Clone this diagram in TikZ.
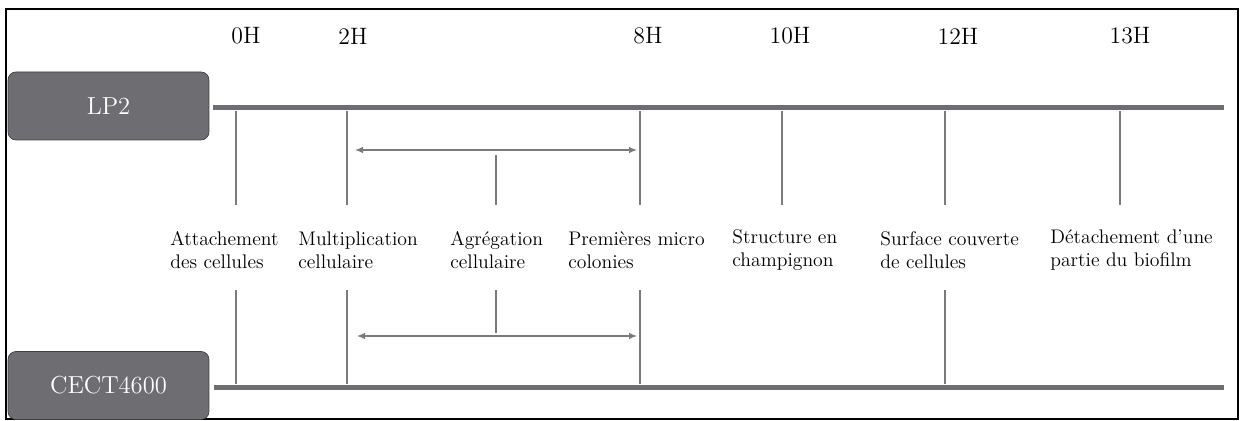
\documentclass[tikz,border=0pt]{standalone}
\usetikzlibrary{arrows.meta}

\definecolor{boxgray}{HTML}{6E6D72}
\definecolor{linegray}{HTML}{7B7B7B}

\tikzset{
	strain/.style={draw=black!75, fill=boxgray, text=white, rounded corners=0.16cm,
		minimum width=4.02cm, minimum height=1.36cm, font=\fontsize{14}{16}\selectfont},
	bar/.style={draw=boxgray, line width=1mm},
	tick/.style={draw=linegray, line width=0.6pt},
	span/.style={tick, {Latex[length=1.6mm,width=1.3mm]}-{Latex[length=1.6mm,width=1.3mm]}},
	hour/.style={font=\fontsize{13.5}{15}\selectfont},
	stage/.style={align=left, anchor=west, inner sep=0pt, font=\fontsize{11.2}{13}\selectfont}
}

\begin{document}
\begin{tikzpicture}[x=0.02cm, y=-0.02cm]
	
	\useasboundingbox (0,0) rectangle (1241,421);
	\draw[line width=0.9pt] (6,9) rectangle (1238,419);
	
	% souches
	\node[strain] (lp2) at (108.5,106) {LP2};
	\node[strain] (cect) at (108.5,385.5) {CECT4600};
	
	% axes du temps
	\coordinate (topL) at (213,108);
	\coordinate (topR) at (1224,108);
	\coordinate (botL) at (214,387.5);
	\coordinate (botR) at (1224,387.5);
	\draw[bar] (topL) -- (topR);
	\draw[bar] (botL) -- (botR);
	
	% heures
	\node[hour] (h0) at (246,36) {0H};
	\node[hour] (h2) at (353,36) {2H};
	\node[hour] (h8) at (648,36) {8H};
	\node[hour] (h10) at (790,36) {10H};
	\node[hour] (h12) at (958,36) {12H};
	\node[hour] (h13) at (1130,36) {13H};
	
	% traits LP2
	\foreach \x/\n in {236/a, 347/b, 640/c, 782/d, 945/e, 1120/f} {
		\coordinate (up\n) at (\x,111);
		\coordinate (dn\n) at (\x,205);
		\draw[tick] (up\n) -- (dn\n);
	}
	\coordinate (midUp) at (496,155);
	\coordinate (midDn) at (496,205);
	\draw[tick] (midUp) -- (midDn);
	
	% traits CECT4600
	\foreach \x/\n in {236/a, 347/b, 640/c, 945/e} {
		\coordinate (lo\n) at (\x,290);
		\coordinate (ba\n) at (\x,384);
		\draw[tick] (lo\n) -- (ba\n);
	}
	\coordinate (midLo) at (496,290);
	\coordinate (midBa) at (496,333);
	\draw[tick] (midLo) -- (midBa);
	
	% intervalles 2H - 8H
	\coordinate (arrA) at (355,150);
	\coordinate (arrB) at (637,150);
	\coordinate (arrC) at (357,336);
	\coordinate (arrD) at (637,336);
	\draw[span] (arrA) -- (arrB);
	\draw[span] (arrC) -- (arrD);
	
	% etapes
	\node[stage] (attach) at (170,250) {Attachement\\des cellules};
	\node[stage] (multi) at (298,250) {Multiplication\\cellulaire};
	\node[stage] (aggr) at (450,250) {Agrégation\\cellulaire};
	\node[stage] (micro) at (568,250) {Premières micro\\colonies};
	\node[stage] (champ) at (732,250) {Structure en\\champignon};
	\node[stage] (surf) at (880,250) {Surface couverte\\de cellules};
	\node[stage] (detach) at (1050,250) {Détachement d'une\\partie du biofilm};
	
\end{tikzpicture}
\end{document}
